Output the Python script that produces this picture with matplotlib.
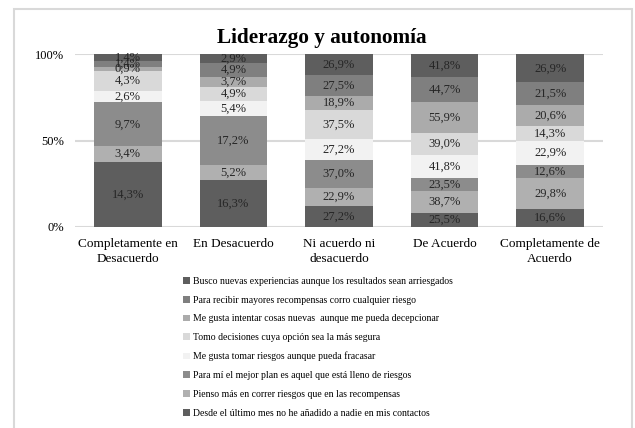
import matplotlib.pyplot as plt
from matplotlib.patches import Patch, Rectangle

plt.rcParams['font.family'] = ['Liberation Serif', 'DejaVu Serif']

categories = ['Completamente en\nDesacuerdo', 'En Desacuerdo', 'Ni acuerdo ni\ndesacuerdo',
              'De Acuerdo', 'Completamente de\nAcuerdo']

# series listed bottom of stack first
series_names = [
    'Desde el último mes no he añadido a nadie en mis contactos',
    'Pienso más en correr riesgos que en las recompensas',
    'Para mí el mejor plan es aquel que está lleno de riesgos',
    'Me gusta tomar riesgos aunque pueda fracasar',
    'Tomo decisiones cuya opción sea la más segura',
    'Me gusta intentar cosas nuevas  aunque me pueda decepcionar',
    'Para recibir mayores recompensas corro cualquier riesgo',
    'Busco nuevas experiencias aunque los resultados sean arriesgados',
]
desde = [14.3, 16.3, 27.2, 25.5, 16.6]
pienso = [3.4, 5.2, 22.9, 38.7, 29.8]
para_mi = [9.7, 17.2, 37.0, 23.5, 12.6]
tomar = [2.6, 5.4, 27.2, 41.8, 22.9]
tomo = [4.3, 4.9, 37.5, 39.0, 14.3]
intentar = [0.9, 3.7, 18.9, 55.9, 20.6]
recibir = [1.4, 4.9, 27.5, 44.7, 21.5]
busco = [1.4, 2.9, 26.9, 41.8, 26.9]
series = [desde, pienso, para_mi, tomar, tomo, intentar, recibir, busco]
colors = ['#5e5e5e', '#b0b0b0', '#8c8c8c', '#f2f2f2', '#d9d9d9', '#ababab', '#7f7f7f', '#5e5e5e']

fig = plt.figure(figsize=(6.35, 4.28), dpi=100)
ax = fig.add_axes([0.118, 0.4703, 0.8316, 0.4028])

totals = [sum(s[i] for s in series) for i in range(len(categories))]
x = range(len(categories))
bottoms = [0.0] * len(categories)
for vals, col in zip(series, colors):
    h = [v / t * 100 for v, t in zip(vals, totals)]
    ax.bar(x, h, bottom=bottoms, width=0.64, color=col, zorder=3)
    for i, (v, hh) in enumerate(zip(vals, h)):
        ax.text(i, bottoms[i] + hh / 2, f'{v:.1f}%'.replace('.', ','),
                ha='center', va='center', fontsize=9, color='#262626', zorder=4)
    bottoms = [b + hh for b, hh in zip(bottoms, h)]

ax.set_xlim(-0.5, len(categories) - 0.5)
ax.set_ylim(0, 100)
ax.set_yticks([0, 50, 100])
ax.set_yticklabels(['0%', '50%', '100%'], fontsize=9)
ax.set_xticks(list(x))
ax.set_xticklabels(categories, fontsize=9.5, linespacing=1.4)
ax.tick_params(length=0)
ax.tick_params(axis='y', pad=8)
ax.tick_params(axis='x', pad=8)
ax.grid(axis='y', color='#d9d9d9', lw=1.5, zorder=0)
for sp in ax.spines.values():
    sp.set_visible(False)

fig.text(0.507, 1 - 38 / 428, 'Liderazgo y autonomía', ha='center', va='center',
         fontsize=15.3, fontweight='bold')

handles = [Patch(facecolor=c, label=n) for n, c in zip(series_names, colors)][::-1]
fig.legend(handles=handles, loc='upper left', bbox_to_anchor=(178 / 635, 1 - 272 / 428),
           frameon=False, fontsize=7, handlelength=0.7, handleheight=0.7,
           handletextpad=0.3, labelspacing=1.0, borderpad=0)

fig.add_artist(Rectangle((14 / 635, -0.05), 618 / 635, 1.05 - 9 / 428, transform=fig.transFigure,
                         fill=False, edgecolor='#d9d9d9', lw=1.5))

fig.savefig('out.png', dpi=100)
